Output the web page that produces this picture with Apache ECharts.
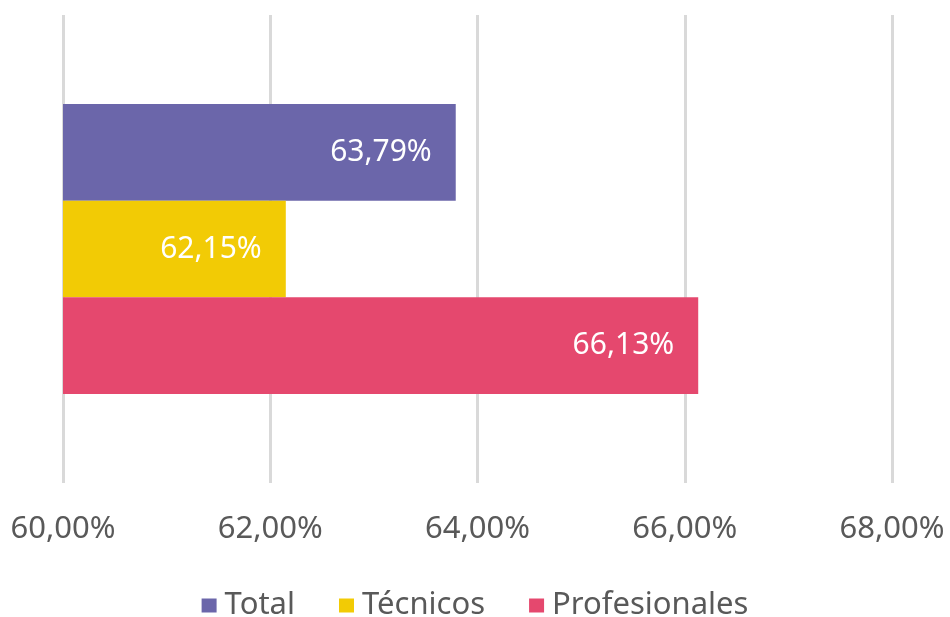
<!DOCTYPE html>
<html><head><meta charset="utf-8">
<script src="https://cdn.jsdelivr.net/npm/echarts@6/dist/echarts.min.js"></script>
<style>html,body{margin:0;padding:0;background:#fff}#c{width:950px;height:617px}</style>
</head><body><div id="c"></div>
<script>
const categories = [''];
const seriesNames = ['Total', 'Técnicos', 'Profesionales'];
const totalValues = [63.79];
const tecnicosValues = [62.15];
const profesionalesValues = [66.13];
const colors = ['#6b66aa', '#f2cb05', '#e5486e'];
const xMin = 60, xMax = 68, xStep = 2;

const fmt = v => v.toFixed(2).replace('.', ',') + '%';
const font = 'Noto Sans';
const valuesList = [totalValues, tecnicosValues, profesionalesValues];

const chart = echarts.init(document.getElementById('c'));
chart.setOption({
  animation: false,
  textStyle: {fontFamily: font},
  grid: {left: 63, right: 58, top: 15, bottom: 134},
  legend: {
    data: seriesNames, bottom: -9, left: 'center', itemGap: 44,
    itemWidth: 15, itemHeight: 14, icon: 'rect',
    textStyle: {fontSize: 31, color: '#595959', fontFamily: font, padding: [0, 0, 0, 3]}
  },
  xAxis: {
    type: 'value', min: xMin, max: xMax, interval: xStep,
    axisLine: {show: false}, axisTick: {show: false},
    axisLabel: {formatter: v => fmt(v), fontSize: 31, color: '#595959', margin: 31},
    splitLine: {lineStyle: {color: '#d9d9d9', width: 3}}
  },
  yAxis: {
    type: 'category', data: categories, inverse: true,
    axisLine: {show: false}, axisTick: {show: false}, axisLabel: {show: false}
  },
  series: seriesNames.map((n, i) => ({
    name: n, type: 'bar', data: valuesList[i], barGap: '0%', barCategoryGap: '38%',
    itemStyle: {color: colors[i]},
    label: {show: true, position: 'insideRight', distance: 24, color: '#fff', fontSize: 30,
      formatter: p => fmt(p.value)}
  }))
});
</script></body></html>
